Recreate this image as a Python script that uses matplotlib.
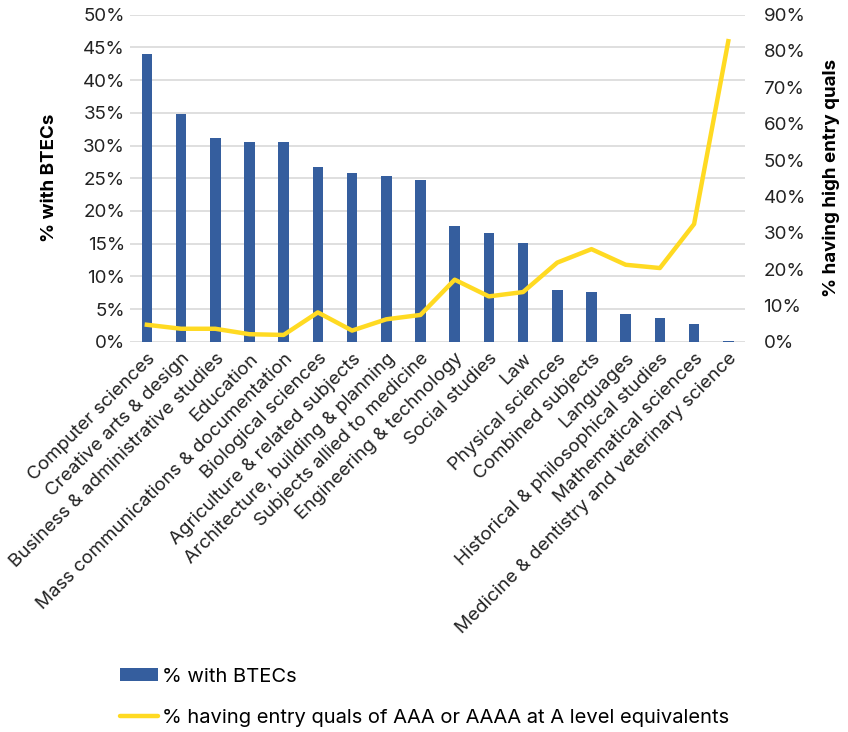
import matplotlib.pyplot as plt
from matplotlib.ticker import PercentFormatter
from matplotlib.patches import Patch
from matplotlib.lines import Line2D

plt.rcParams['font.family'] = ['Inter', 'DejaVu Sans']

subjects = [
    'Computer sciences', 'Creative arts & design', 'Business & administrative studies',
    'Education', 'Mass communications & documentation', 'Biological sciences',
    'Agriculture & related subjects', 'Architecture, building & planning',
    'Subjects allied to medicine', 'Engineering & technology', 'Social studies', 'Law',
    'Physical sciences', 'Combined subjects', 'Languages',
    'Historical & philosophical studies', 'Mathematical sciences',
    'Medicine & dentistry and veterinary science',
]
pct_btec = [44.0, 34.8, 31.1, 30.6, 30.5, 26.7, 25.8, 25.3, 24.7, 17.7, 16.6, 15.1,
            7.9, 7.6, 4.3, 3.7, 2.8, 0.1]
pct_high_entry = [4.7, 3.6, 3.6, 2.1, 1.9, 8.1, 3.1, 6.2, 7.4, 17.1, 12.5, 13.7,
                  21.8, 25.5, 21.2, 20.3, 32.4, 82.7]

bar_color = '#355E9E'
line_color = '#FFDA22'

fig = plt.figure(figsize=(8.48, 7.32), dpi=100)
ax = fig.add_axes([0.153, 0.533, 0.726, 0.447])
x = range(len(subjects))
ax.bar(x, pct_btec, width=0.31, color=bar_color, zorder=2)
ax.set_ylim(0, 50)
ax.set_yticks(range(0, 51, 5))
ax.yaxis.set_major_formatter(PercentFormatter(decimals=0))
ax.grid(axis='y', color='#D9D9D9', linewidth=1.2, zorder=0)
ax.set_axisbelow(True)
ax.set_xlim(-0.5, len(subjects) - 0.5)
ax.set_xticks(list(x))
ax.set_xticklabels(subjects, rotation=45, ha='right', rotation_mode='anchor', fontsize=12.5)
ax.tick_params(length=0, labelsize=13.5, colors='#222222')
ax.tick_params(axis='x', pad=6)
ax.set_ylabel('% with BTECs', fontsize=13.5, fontweight='bold', labelpad=18)
for s in ax.spines.values():
    s.set_visible(False)

ax2 = ax.twinx()
ax2.plot(list(x), pct_high_entry, color=line_color, linewidth=3.2, zorder=3)
ax2.set_ylim(0, 90)
ax2.set_yticks(range(0, 91, 10))
ax2.yaxis.set_major_formatter(PercentFormatter(decimals=0))
ax2.tick_params(length=0, labelsize=13.5, colors='#222222', pad=13)
ax2.set_ylabel('% having high entry quals', fontsize=13.5, fontweight='bold', labelpad=12)
for s in ax2.spines.values():
    s.set_visible(False)

handles = [
    Patch(facecolor=bar_color, label='% with BTECs'),
    Line2D([0], [0], color=line_color, linewidth=3.2, solid_capstyle='round',
           label='% having entry quals of AAA or AAAA at A level equivalents'),
]
fig.legend(handles=handles, loc='lower left', bbox_to_anchor=(0.12, -0.018), frameon=False,
           fontsize=14.5, handlelength=1.9, handleheight=0.6, handletextpad=0.2,
           labelspacing=1.15)

fig.savefig('out.png', dpi=100)
